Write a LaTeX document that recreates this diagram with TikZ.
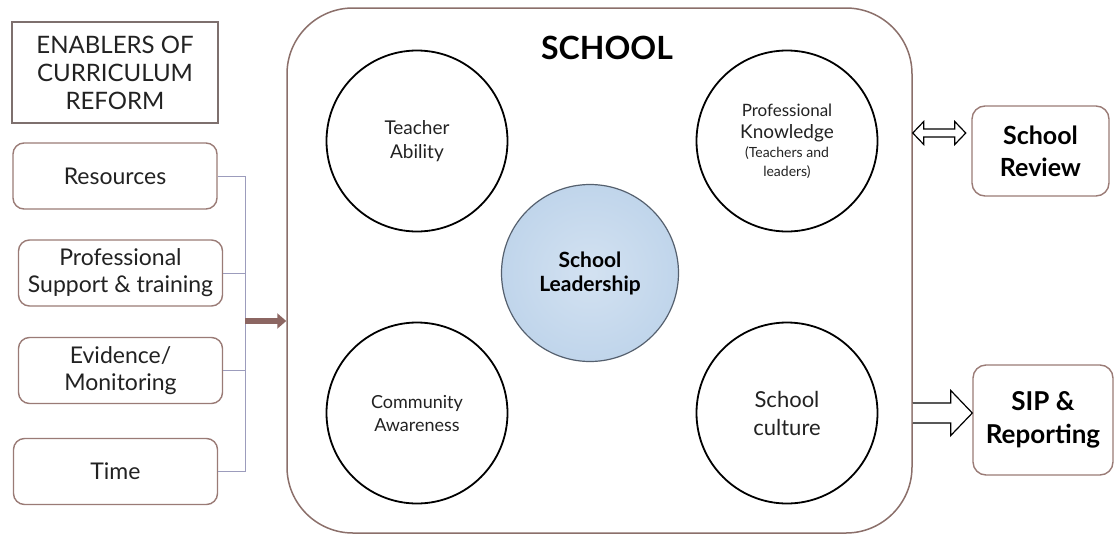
\documentclass[tikz,border=0pt]{standalone}
\usepackage{fontspec}
\setmainfont{Lato}
\usetikzlibrary{arrows.meta}
\definecolor{boxline}{HTML}{9A7B76}
\definecolor{titleline}{HTML}{7E706E}
\definecolor{busline}{HTML}{9C9CBC}
\definecolor{brownarrow}{HTML}{8C6662}
\definecolor{leadfill}{HTML}{C0D5EB}
\definecolor{leadline}{HTML}{55606E}
\definecolor{txt}{HTML}{222222}
\newcommand{\fs}[2]{\fontsize{#1}{#2}\selectfont}
\tikzset{
  enabler/.style={draw=boxline, line width=1.4pt, rounded corners=11pt, fill=white,
    minimum width=204pt, minimum height=66pt, align=center, text=txt, inner sep=0pt,
    font=\fs{23}{27}},
  factor/.style={circle, draw=black, line width=1.8pt, minimum size=181pt, inner sep=0pt,
    align=center, text=txt},
  outbox/.style={draw=boxline, line width=1.4pt, rounded corners=13pt, fill=white,
    align=center, text=black, inner sep=0pt, font=\bfseries\fs{25}{32}},
  hollow/.style={draw=black, line width=1.2pt, fill=white, line join=miter}
}
\begin{document}
\begin{tikzpicture}[x=1pt, y=-1pt]
\useasboundingbox (0,0) rectangle (1117,536);

% title box
\node[draw=titleline, line width=1.4pt, minimum width=206pt, minimum height=101pt,
      align=center, text=txt, inner sep=0pt, font=\fs{24}{28}]
  (title) at (115,72.5) {ENABLERS OF\\CURRICULUM\\REFORM};

% enablers
\node[enabler] (res)  at (115,176)   {Resources};
\node[enabler] (prof) at (120.5,273) {Professional\\Support \& training};
\node[enabler] (evid) at (120.5,370.5) {Evidence/\\Monitoring};
\node[enabler] (time) at (115.5,471.5) {Time};

% school frame
\node[draw=boxline!90!black, line width=1.5pt, rounded corners=66pt, minimum width=625pt,
      minimum height=525pt, inner sep=0pt] (school) at (599.5,270.5) {};
\node[font=\bfseries\fs{32}{36}, text=black] (schooltitle) at (607,48) {SCHOOL};

% bus collecting the enablers
\coordinate (bus) at (245,0);
\foreach \n in {res,prof,evid,time}
  \draw[busline, line width=1pt] (\n.east) -- (\n.east -| bus);
\draw[busline, line width=1pt] (res.east -| bus) -- (time.east -| bus);
\coordinate (feed) at (245,321);
\draw[brownarrow, line width=6pt, -{Triangle[length=9pt,width=15pt]}]
  (feed) -- (feed -| school.west);

% factors
\node[factor, font=\fs{19}{24}] (teach) at (417,141) {Teacher\\Ability};
\node[factor, font=\fs{19}{22}] (know) at (787,141)
  {{\fs{17}{22}Professional}\\Knowledge\\[-3pt]{\fs{14}{18}(Teachers and}\\[-3pt]{\fs{14}{18}leaders)}};
\node[factor, font=\fs{18}{23}] (comm) at (417,413) {Community\\Awareness};
\node[factor, font=\fs{22}{28}] (cult) at (787,413) {School\\culture};
\node[circle, draw=leadline, line width=1.2pt, inner color=leadfill!70!white, outer color=leadfill,
      minimum size=177pt, inner sep=0pt, align=center, text=black,
      font=\bfseries\fs{21}{24}] (lead) at (590,273) {School\\Leadership};

% outcomes
\node[outbox, minimum width=137pt, minimum height=90pt] (review) at (1040.5,151) {School\\Review};
\node[outbox, minimum width=140pt, minimum height=110pt, font=\bfseries\fs{26}{33}] (sip) at (1043,420) {SIP \&\\Reporting};

% hollow arrows between the school and the outcomes
\coordinate (revstart) at (school.east |- 0,133);
\draw[hollow, shift={(revstart)}]
  (0,0) -- (11,-11.5) -- (11,-4) -- (42,-4) -- (42,-11.5) -- (53,0)
  -- (42,11.5) -- (42,4) -- (11,4) -- (11,11.5) -- cycle;
\coordinate (sipstart) at (school.east |- 0,413);
\draw[hollow, shift={(sipstart)}]
  (0,-10) -- (38,-10) -- (38,-22.5) -- (sip.west |- 0,0) -- (38,22.5) -- (38,10) -- (0,10);
\end{tikzpicture}
\end{document}
